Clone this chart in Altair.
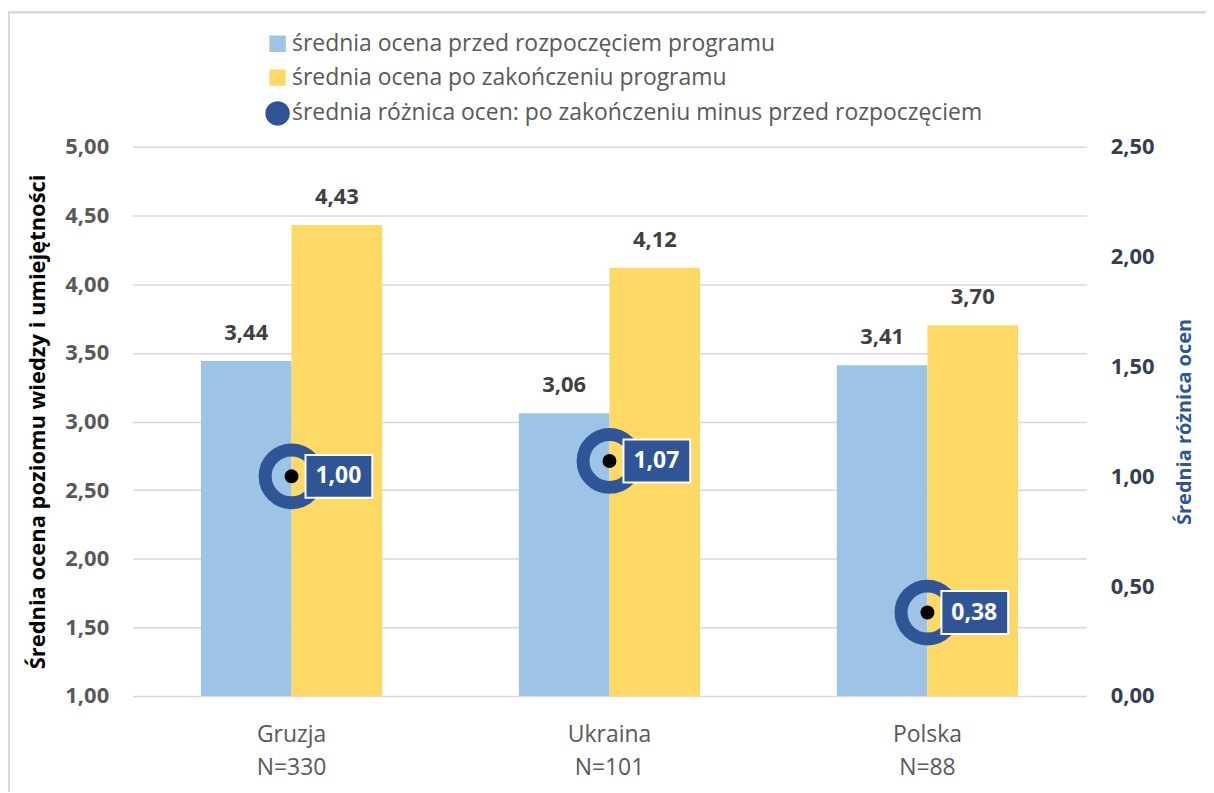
import altair as alt
import pandas as pd

countries = ["Gruzja", "Ukraina", "Polska"]
n_values = [330, 101, 88]
before = [3.44, 3.06, 3.41]
after = [4.43, 4.12, 3.70]
diff = [1.00, 1.07, 0.38]

s_before = "średnia ocena przed rozpoczęciem programu"
s_after = "średnia ocena po zakończeniu programu"
s_diff = "średnia różnica ocen: po zakończeniu minus przed rozpoczęciem"
series_names = [s_before, s_after, s_diff]
colors = ["#9DC3E6", "#FFD966", "#2F5597"]

labels = [f"{c}\nN={n}" for c, n in zip(countries, n_values)]

rows = []
for lab, b, a in zip(labels, before, after):
    rows.append({"cat": lab, "series": s_before, "value": b})
    rows.append({"cat": lab, "series": s_after, "value": a})
df_bars = pd.DataFrame(rows)
df_diff = pd.DataFrame({"cat": labels, "series": [s_diff] * 3, "diff": diff})

FONT = "Open Sans"
fmt = "replace(format(datum.value, '.2f'), '.', ',')"

left_scale = alt.Scale(domain=[1, 5], zero=False, nice=False)
right_scale = alt.Scale(domain=[0, 2.5], zero=False, nice=False)

x_enc = alt.X(
    "cat:N", sort=labels,
    scale=alt.Scale(paddingInner=0.43, paddingOuter=0.215),
    axis=alt.Axis(title=None, labelExpr="split(datum.label, '\\n')", labelFontSize=23,
                  labelColor="#595959", labelLineHeight=33, labelPadding=28, labelAngle=0,
                  labelFont=FONT, domain=False, ticks=False, grid=False),
)
x_plain = alt.X("cat:N", sort=labels)
xoff = alt.XOffset("series:N", sort=[s_before, s_after],
                   scale=alt.Scale(paddingInner=0, paddingOuter=0))

square = "M-0.65,-0.65H0.65V0.65H-0.65Z"
color_enc = alt.Color(
    "series:N",
    scale=alt.Scale(domain=series_names, range=colors),
    legend=alt.Legend(title=None, orient="none", legendX=133, legendY=-116,
                      labelFontSize=23, labelColor="#595959", labelFont=FONT,
                      symbolSize=529, rowPadding=9, labelOffset=2, labelLimit=900),
)

frame = alt.Chart(df_diff).mark_rect(fill="transparent", stroke="#D9D9D9", strokeWidth=2).encode(
    x=alt.value(-124), x2=alt.value(1085), y=alt.value(-135), y2=alt.value(660),
)

bars = alt.Chart(df_bars).mark_bar().encode(
    x=x_enc,
    xOffset=xoff,
    y=alt.Y("value:Q", scale=left_scale,
            axis=alt.Axis(title="Średnia ocena poziomu wiedzy i umiejętności",
                          titleFontSize=22, titleFontWeight="bold", titleColor="black",
                          titleFont=FONT, titlePadding=15,
                          values=[1, 1.5, 2, 2.5, 3, 3.5, 4, 4.5, 5], labelExpr=fmt,
                          labelFontSize=22, labelFontWeight="bold", labelColor="#595959",
                          labelFont=FONT, labelPadding=24, domain=False, ticks=False,
                          grid=True, gridColor="#D9D9D9", gridWidth=1.5)),
    y2=alt.datum(1),
    color=color_enc,
)

bar_text = alt.Chart(df_bars).transform_calculate(
    lbl="replace(format(datum.value, '.2f'), '.', ',')"
).mark_text(baseline="bottom", dy=-16, fontSize=22, fontWeight="bold",
            color="#404040", font=FONT).encode(
    x=x_plain,
    xOffset=xoff,
    y=alt.Y("value:Q", scale=left_scale, axis=None),
    text="lbl:N",
)

y_right = alt.Y("diff:Q", scale=right_scale,
                axis=alt.Axis(orient="right", title="Średnia różnica ocen",
                              titleFontSize=20, titleFontWeight="bold", titleColor="#2F5597",
                              titleFont=FONT, titlePadding=40, titleAngle=270,
                              values=[0, 0.5, 1, 1.5, 2, 2.5], labelExpr=fmt,
                              labelFontSize=22, labelFontWeight="bold", labelColor="#333F50",
                              labelFont=FONT, labelPadding=24, domain=False, ticks=False,
                              grid=False))
y_right_noaxis = alt.Y("diff:Q", scale=right_scale, axis=None)

ring = alt.Chart(df_diff).mark_point(filled=False, strokeWidth=13, size=2809, opacity=1).encode(
    x=x_plain,
    y=y_right,
    color=color_enc,
    shape=alt.Shape("series:N", scale=alt.Scale(domain=series_names,
                                                 range=[square, square, "circle"])),
)
dot = alt.Chart(df_diff).mark_point(filled=True, color="black", size=196, opacity=1).encode(
    x=x_plain,
    y=y_right_noaxis,
)
box = alt.Chart(df_diff).mark_point(
    shape="M0.7,-1.075L4.05,-1.075L4.05,1.075L0.7,1.075Z", size=1600, filled=True,
    fill="#2F5597", stroke="white", strokeWidth=2, opacity=1,
).encode(
    x=x_plain,
    y=y_right_noaxis,
)
box_text = alt.Chart(df_diff).transform_calculate(
    lbl="replace(format(datum.diff, '.2f'), '.', ',')"
).mark_text(dx=47, fontSize=23, fontWeight="bold", color="white", font=FONT).encode(
    x=x_plain,
    y=y_right_noaxis,
    text="lbl:N",
)

chart = alt.layer(bars, bar_text, ring, dot, box, box_text, frame).resolve_scale(
    y="independent"
).properties(
    width=957, height=551,
    autosize=alt.AutoSizeParams(type="none"),
    padding={"left": 125, "top": 138, "right": 120, "bottom": 95},
).configure_view(strokeWidth=0).configure_axis(labelFont=FONT)

chart.save("out.html", embed_options={"renderer": "svg", "actions": False})
